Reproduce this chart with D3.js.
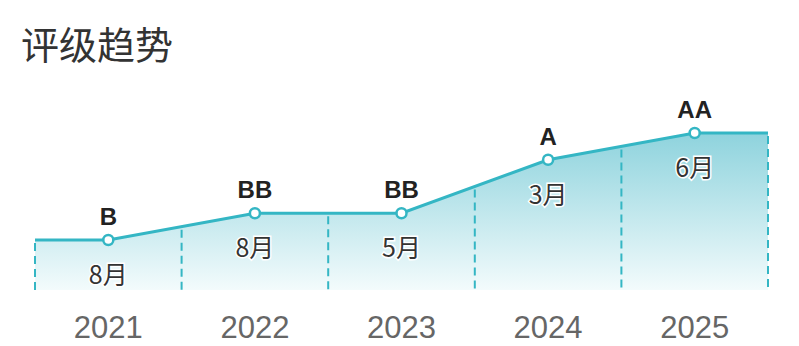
<!DOCTYPE html>
<html>
<head>
<meta charset="utf-8">
<script src="https://cdn.jsdelivr.net/npm/d3@7"></script>
<style>
  html, body { margin: 0; padding: 0; background: #fff; }
  svg { display: block; font-family: "Liberation Sans", "Noto Sans CJK SC", sans-serif; }
</style>
</head>
<body>
<svg id="chart" width="799" height="346"></svg>
<script>
// chart data
var years = ["2021", "2022", "2023", "2024", "2025"];
var ratings = ["B", "BB", "BB", "A", "AA"];
var months = ["8月", "8月", "5月", "3月", "6月"];
var ratingLevels = ["B", "BB", "BBB", "A", "AA"];

var svg = d3.select("#chart");
var LINE = "#34b6c4";
var BOTTOM = 290;

var x = d3.scaleBand().domain(years).range([35, 768]);
var y = d3.scalePoint().domain(ratingLevels).range([240, 133]);

var pts = years.map(function(yr, i) {
    return {year: yr, rating: ratings[i], month: months[i],
        x: x(yr) + x.bandwidth() / 2, y: y(ratings[i])};
});

// line runs flat out to both edges of the plot
var pathPts = [[x.range()[0], pts[0].y]]
    .concat(pts.map(function(d) { return [d.x, d.y]; }))
    .concat([[x.range()[1], pts[pts.length - 1].y]]);

// title
svg.append("text")
    .attr("x", 21).attr("y", 59)
    .style("font-family", "'Noto Sans CJK SC'")
    .style("font-size", "38px")
    .attr("fill", "#333")
    .text("评级趋势");

var grad = svg.append("defs").append("linearGradient")
    .attr("id", "areaGrad")
    .attr("gradientUnits", "userSpaceOnUse")
    .attr("x1", 0).attr("x2", 0)
    .attr("y1", y.range()[1]).attr("y2", BOTTOM);
grad.append("stop").attr("offset", "0%").attr("stop-color", "#8ed3dd");
grad.append("stop").attr("offset", "100%").attr("stop-color", "#f3fbfc");

svg.append("path")
    .datum(pathPts)
    .attr("fill", "url(#areaGrad)")
    .attr("d", d3.area().x(function(d) { return d[0]; })
        .y0(BOTTOM).y1(function(d) { return d[1]; }));

// dashed separators at band edges, from line down to bottom
function lineYAt(px) {
    for (var i = 0; i < pathPts.length - 1; i++) {
        var a = pathPts[i], b = pathPts[i + 1];
        if (px >= a[0] && px <= b[0]) {
            return a[1] + (b[1] - a[1]) * (px - a[0]) / (b[0] - a[0]);
        }
    }
    return pathPts[pathPts.length - 1][1];
}
var edges = years.map(function(yr) { return x(yr); }).concat([x.range()[1]]);
svg.selectAll(".sep")
    .data(edges)
    .enter().append("line")
    .attr("class", "sep")
    .attr("x1", function(d) { return d; }).attr("x2", function(d) { return d; })
    .attr("y1", function(d) { return lineYAt(d) + 3; })
    .attr("y2", BOTTOM)
    .attr("stroke", LINE)
    .attr("stroke-width", 2)
    .attr("stroke-dasharray", "8,5");

svg.append("path")
    .datum(pathPts)
    .attr("fill", "none")
    .attr("stroke", LINE)
    .attr("stroke-width", 3)
    .attr("d", d3.line());

svg.selectAll(".pt")
    .data(pts)
    .enter().append("circle")
    .attr("class", "pt")
    .attr("cx", function(d) { return d.x; })
    .attr("cy", function(d) { return d.y; })
    .attr("r", 5)
    .attr("fill", "#fff")
    .attr("stroke", LINE)
    .attr("stroke-width", 2.5);

svg.selectAll(".rating")
    .data(pts)
    .enter().append("text")
    .attr("class", "rating")
    .attr("x", function(d) { return d.x; })
    .attr("y", function(d) { return d.y - 15; })
    .attr("text-anchor", "middle")
    .style("font-size", "24px")
    .style("font-weight", "bold")
    .attr("fill", "#222")
    .attr("stroke", "#fff").attr("stroke-width", 3)
    .attr("paint-order", "stroke")
    .text(function(d) { return d.rating; });

svg.selectAll(".month")
    .data(pts)
    .enter().append("text")
    .attr("class", "month")
    .attr("x", function(d) { return d.x; })
    .attr("y", function(d) { return d.y + 44; })
    .attr("text-anchor", "middle")
    .style("font-family", "'Noto Sans CJK SC'")
    .style("font-size", "25px")
    .attr("fill", "#333")
    .attr("stroke", "#fff").attr("stroke-width", 3)
    .attr("paint-order", "stroke")
    .text(function(d) { return d.month; });

// year axis
var axis = svg.append("g")
    .attr("transform", "translate(0," + BOTTOM + ")")
    .call(d3.axisBottom(x).tickSize(0));
axis.select(".domain").remove();
axis.selectAll("text")
    .attr("y", 48)
    .attr("dy", 0)
    .style("font-family", "'Liberation Sans'")
    .style("font-size", "31px")
    .attr("fill", "#666");
</script>
</body>
</html>
